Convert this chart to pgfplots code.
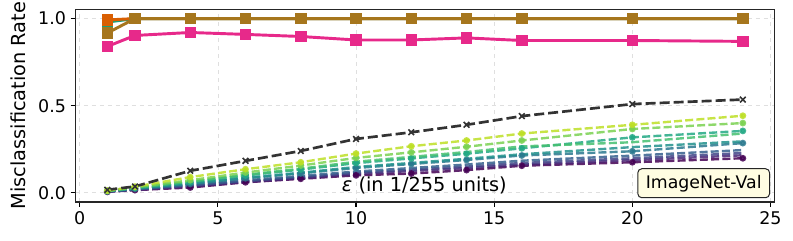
\documentclass[border=0pt]{standalone}
\usepackage{fontspec}
\setmainfont{DejaVu Sans}
\usepackage{pgfplots}
\pgfplotsset{compat=1.18}
\definecolor{dteal}{HTML}{1B9E77}
\definecolor{dorange}{HTML}{D95F02}
\definecolor{dpink}{HTML}{E7298A}
\definecolor{dbrown}{HTML}{A6761D}
\definecolor{dgray}{HTML}{333333}
\definecolor{vA}{HTML}{440154}
\definecolor{vB}{HTML}{482475}
\definecolor{vC}{HTML}{414487}
\definecolor{vD}{HTML}{355F8D}
\definecolor{vE}{HTML}{2A788E}
\definecolor{vF}{HTML}{21918C}
\definecolor{vG}{HTML}{22A884}
\definecolor{vH}{HTML}{44BF70}
\definecolor{vI}{HTML}{7AD151}
\definecolor{vJ}{HTML}{BDDF26}
\definecolor{boxfill}{HTML}{FFFDE2}
\begin{document}
\begin{tikzpicture}
\begin{axis}[
  scale only axis, width=524pt, height=144.5pt,
  xmin=-0.145, xmax=25.14, ymin=-0.053, ymax=1.053,
  xtick={0,5,10,15,20,25}, ytick={0,0.5,1},
  yticklabel style={/pgf/number format/.cd, fixed, fixed zerofill, precision=1},
  /pgf/number format/assume math mode=true,
  tick label style={font=\fontsize{13.1}{15}\selectfont},
  tick align=outside, tick pos=left, major tick length=3.75pt,
  major tick style={line width=0.8pt, color=black},
  grid=major, major grid style={dashed, color=gray!25, line width=0.5pt},
  axis line style={line width=0.8pt, color=black!85},
  ylabel={Misclassification Rate},
  ylabel style={font=\fontsize{14.5}{17}\selectfont, at={(axis description cs:-0.0826,0.5)}, anchor=center},
  clip=false,
  vir/.style={line width=1.8pt, dash pattern=on 6pt off 2.4pt, opacity=0.85, mark=*, mark size=1.6pt, mark options={solid}},
  top/.style={line width=2.2pt, mark=square*, mark size=3.2pt, mark options={solid}},
]
% viridis dashed series
\addplot[vir, color=vA] coordinates {(1,0.005)(2,0.015)(4,0.03)(6,0.06)(8,0.08)(10,0.10)(12,0.11)(14,0.13)(16,0.155)(20,0.175)(24,0.198)};
\addplot[vir, color=vB, mark=none] coordinates {(1,0.006)(2,0.017)(4,0.036)(6,0.062)(8,0.084)(10,0.107)(12,0.125)(14,0.142)(16,0.161)(20,0.187)(24,0.215)};
\addplot[vir, color=vC, mark=none] coordinates {(1,0.007)(2,0.018)(4,0.041)(6,0.066)(8,0.089)(10,0.114)(12,0.132)(14,0.150)(16,0.171)(20,0.198)(24,0.228)};
\addplot[vir, color=vD, mark=none] coordinates {(1,0.007)(2,0.020)(4,0.044)(6,0.071)(8,0.096)(10,0.122)(12,0.142)(14,0.162)(16,0.184)(20,0.213)(24,0.245)};
\addplot[vir, color=vE] coordinates {(1,0.008)(2,0.023)(4,0.051)(6,0.083)(8,0.111)(10,0.142)(12,0.165)(14,0.188)(16,0.214)(20,0.238)(24,0.285)};
\addplot[vir, color=vF, mark=none] coordinates {(1,0.009)(2,0.024)(4,0.053)(6,0.086)(8,0.115)(10,0.148)(12,0.171)(14,0.195)(16,0.221)(20,0.262)(24,0.295)};
\addplot[vir, color=vG] coordinates {(1,0.010)(2,0.027)(4,0.061)(6,0.099)(8,0.133)(10,0.170)(12,0.197)(14,0.224)(16,0.255)(20,0.318)(24,0.355)};
\addplot[vir, color=vH, mark=none] coordinates {(1,0.010)(2,0.028)(4,0.064)(6,0.103)(8,0.138)(10,0.178)(12,0.206)(14,0.234)(16,0.266)(20,0.29)(24,0.34)};
\addplot[vir, color=vI] coordinates {(1,0.011)(2,0.032)(4,0.072)(6,0.116)(8,0.156)(10,0.200)(12,0.232)(14,0.264)(16,0.300)(20,0.366)(24,0.40)};
\addplot[vir, color=vJ] coordinates {(1,0.012)(2,0.035)(4,0.09)(6,0.135)(8,0.175)(10,0.225)(12,0.267)(14,0.30)(16,0.34)(20,0.39)(24,0.442)};
% black dashed
\addplot[color=dgray, line width=2pt, dash pattern=on 7.5pt off 3pt, mark=x, mark size=3pt, mark options={solid, line width=1.2pt}] coordinates {(1,0.017)(2,0.036)(4,0.126)(6,0.183)(8,0.24)(10,0.309)(12,0.347)(14,0.39)(16,0.44)(20,0.509)(24,0.535)};
% top series
\addplot[top, color=dteal] coordinates {(1,0.98)(2,1)(4,1)(6,1)(8,1)(10,1)(12,1)(14,1)(16,1)(20,1)(24,1)};
\addplot[top, color=dorange] coordinates {(1,0.992)(2,1)(4,1)(6,1)(8,1)(10,1)(12,1)(14,1)(16,1)(20,1)(24,1)};
\addplot[top, color=dpink] coordinates {(1,0.84)(2,0.903)(4,0.92)(6,0.909)(8,0.897)(10,0.877)(12,0.877)(14,0.889)(16,0.874)(20,0.874)(24,0.869)};
\addplot[top, color=dbrown] coordinates {(1,0.917)(2,1)(4,1)(6,1)(8,1)(10,1)(12,1)(14,1)(16,1)(20,1)(24,1)};
\node[font=\fontsize{14.5}{17}\selectfont, anchor=base, yshift=7.7pt] at (rel axis cs:0.499,0) {\textit{ε} (in 1/255 units)};
\node[draw=black!85, line width=0.75pt, fill=boxfill, rounded corners=3pt, anchor=south east, minimum width=98.8pt, minimum height=21.75pt, inner sep=0pt, font=\fontsize{13}{15}\selectfont, xshift=-3.2pt, yshift=2.8pt] at (rel axis cs:1,0) {ImageNet-Val};
\end{axis}
\pgfresetboundingbox
\path[use as bounding box] (-56.8pt,-29.25pt) rectangle (538pt,151.5pt);
\end{tikzpicture}
\end{document}
